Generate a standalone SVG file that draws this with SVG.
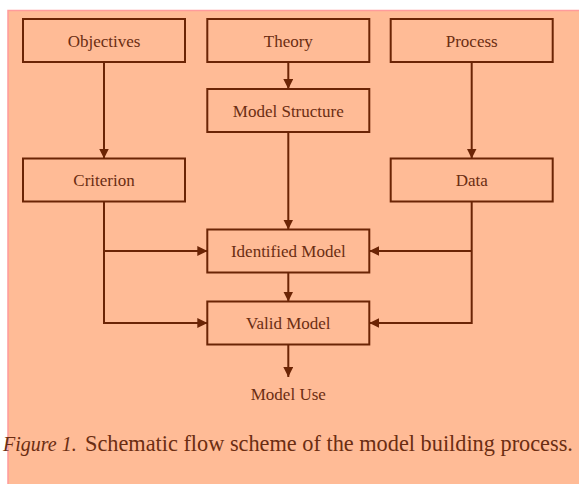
<svg xmlns="http://www.w3.org/2000/svg" width="579" height="484" viewBox="0 0 579 484">
  <style>
    .box{fill:none;stroke:#6b2405;stroke-width:2}
    .lbl{font-family:"Liberation Serif","Times New Roman",serif;font-size:17px;fill:#6b2d12;text-anchor:middle}
    .con{fill:none;stroke:#6b2405;stroke-width:2}
    .cap{font-family:"Liberation Serif","Times New Roman",serif;font-size:22.3px;fill:#6b2d12}
  </style>
  <defs>
    <marker id="ah" viewBox="0 0 10 10" refX="10" refY="5" markerWidth="10" markerHeight="10" markerUnits="userSpaceOnUse" orient="auto">
      <path d="M0,0 L10,5 L0,10 Z" fill="#6b2405"/>
    </marker>
  </defs>
  <rect x="0" y="0" width="579" height="484" fill="#ffffff"/>
  <rect x="8" y="10.5" width="575" height="480" fill="#ffbb96"/>
  <path d="M8,484 L8,10.5 L579,10.5" fill="none" stroke="#ff9b9b" stroke-width="1.5"/>

  <g id="objectives"><rect class="box" x="23" y="19" width="162" height="43"/><text class="lbl" x="104" y="46.5">Objectives</text></g>
  <g id="theory"><rect class="box" x="207.3" y="19" width="162" height="43"/><text class="lbl" x="288.3" y="46.5">Theory</text></g>
  <g id="process"><rect class="box" x="390.7" y="19" width="162" height="43"/><text class="lbl" x="471.7" y="46.5">Process</text></g>
  <g id="model-structure"><rect class="box" x="207.3" y="89" width="162" height="43"/><text class="lbl" x="288.3" y="116.5">Model Structure</text></g>
  <g id="criterion"><rect class="box" x="23" y="158.5" width="162" height="43"/><text class="lbl" x="104" y="186">Criterion</text></g>
  <g id="data"><rect class="box" x="390.7" y="158.5" width="162" height="43"/><text class="lbl" x="471.7" y="186">Data</text></g>
  <g id="identified-model"><rect class="box" x="207.3" y="229.5" width="162" height="43"/><text class="lbl" x="288.3" y="257">Identified Model</text></g>
  <g id="valid-model"><rect class="box" x="207.3" y="301.5" width="162" height="43"/><text class="lbl" x="288.3" y="329">Valid Model</text></g>
  <g id="model-use"><text class="lbl" x="288.3" y="399.5">Model Use</text></g>

  <g id="connectors">
    <path class="con" d="M104,62 L104,158.5" marker-end="url(#ah)"/>
    <path class="con" d="M288.3,62 L288.3,89" marker-end="url(#ah)"/>
    <path class="con" d="M471.7,62 L471.7,158.5" marker-end="url(#ah)"/>
    <path class="con" d="M288.3,132 L288.3,229.5" marker-end="url(#ah)"/>
    <path class="con" d="M288.3,272.5 L288.3,301.5" marker-end="url(#ah)"/>
    <path class="con" d="M288.3,344.5 L288.3,377" marker-end="url(#ah)"/>
    <path class="con" d="M104,201.5 L104,323 L207.3,323" marker-end="url(#ah)"/>
    <path class="con" d="M104,251 L207.3,251" marker-end="url(#ah)"/>
    <path class="con" d="M471.7,201.5 L471.7,323 L369.3,323" marker-end="url(#ah)"/>
    <path class="con" d="M471.7,251 L369.3,251" marker-end="url(#ah)"/>
  </g>

  <text class="cap" x="3" y="451" font-style="italic" style="font-size:20px">Figure 1.</text>
  <text class="cap" x="85" y="451">Schematic flow scheme of the model building process.</text>
</svg>
